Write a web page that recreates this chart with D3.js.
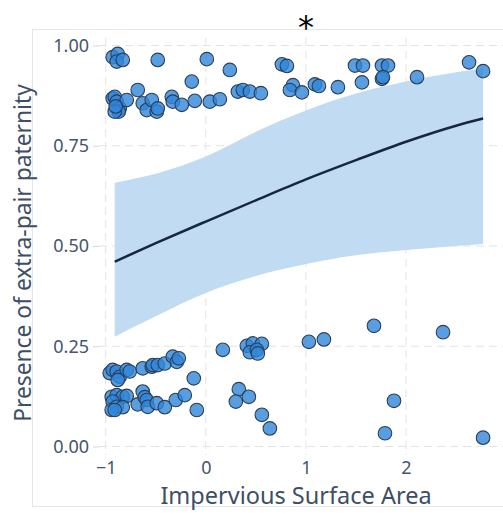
<!DOCTYPE html>
<html>
<head>
<meta charset="utf-8">
<script src="https://cdn.jsdelivr.net/npm/d3@7"></script>
<style>
  html, body { margin: 0; padding: 0; background: #fff; }
  svg { display: block; font-family: "Noto Sans", "Open Sans", sans-serif; }
  .tick text { fill: #44556e; }
</style>
</head>
<body>
<svg id="chart" width="503" height="517"></svg>
<script>
// observed points (x = impervious surface, y = jittered presence)
const ptsX = [
  -0.93, -0.88, -0.89, -0.83, -0.48, 0.01, 0.24, -0.14, -0.68,
  0.76, 0.81, 0.87, 0.84, 0.96, 1.09, 1.13, 1.32, 1.49, 1.57, 1.56, 1.76, 1.82, 1.76, 1.77, 2.11, 2.63, 2.77,
  -0.93, -0.91, -0.89, -0.86, -0.87, -0.91, -0.79, -0.90,
  -0.63, -0.59, -0.54, -0.49, -0.48,
  -0.34, -0.33, -0.24, -0.11, 0.04, 0.14,
  0.32, 0.37, 0.44, 0.55,
  -0.96, -0.93, -0.89, -0.86, -0.88, -0.79, -0.76,
  -0.63, -0.54, -0.53, -0.48, -0.41, -0.33, -0.29, -0.27,
  -0.12, 0.17,
  0.41, 0.47, 0.56, 0.44, 0.51, 0.52,
  1.03, 1.18, 1.68, 2.37,
  -0.94, -0.89, -0.83, -0.79, -0.93, -0.89, -0.83, -0.94, -0.91,
  -0.68, -0.63, -0.61, -0.59, -0.58, -0.49, -0.41,
  -0.30, -0.21, -0.09,
  0.33, 0.43, 0.30, 0.56, 0.64,
  1.88, 1.79, 2.77
]
const ptsY = [
  0.971, 0.979, 0.960, 0.964, 0.964, 0.966, 0.939, 0.910, 0.889,
  0.953, 0.949, 0.901, 0.889, 0.883, 0.903, 0.899, 0.896, 0.950, 0.950, 0.908, 0.950, 0.950, 0.917, 0.921, 0.921, 0.958, 0.936,
  0.868, 0.872, 0.860, 0.843, 0.835, 0.835, 0.864, 0.848,
  0.856, 0.839, 0.864, 0.835, 0.843,
  0.872, 0.860, 0.852, 0.862, 0.860, 0.866,
  0.885, 0.889, 0.885, 0.881,
  0.183, 0.191, 0.187, 0.174, 0.166, 0.191, 0.187,
  0.195, 0.199, 0.203, 0.203, 0.207, 0.224, 0.211, 0.220,
  0.170, 0.241,
  0.251, 0.257, 0.256, 0.235, 0.241, 0.232,
  0.261, 0.267, 0.301, 0.285,
  0.124, 0.128, 0.124, 0.126, 0.112, 0.099, 0.098, 0.091, 0.091,
  0.105, 0.137, 0.123, 0.116, 0.099, 0.108, 0.098,
  0.116, 0.128, 0.091,
  0.143, 0.124, 0.112, 0.079, 0.045,
  0.114, 0.033, 0.022
]

// fitted curve with confidence band
const fitX  = [-0.91, -0.5, 0, 0.5, 1, 1.5, 2, 2.5, 2.77]
const fitY  = [0.461, 0.507, 0.561, 0.614, 0.666, 0.714, 0.760, 0.800, 0.818]
const fitLo = [0.274, 0.325, 0.383, 0.425, 0.455, 0.477, 0.490, 0.500, 0.505]
const fitHi = [0.658, 0.680, 0.723, 0.785, 0.838, 0.880, 0.910, 0.933, 0.943]

const xTicks = [-1, 0, 1, 2]
const yTicks = [0, 0.25, 0.5, 0.75, 1]

const svg = d3.select('#chart')
const plotLeft = 99, plotRight = 560, plotTop = 38, plotBottom = 455

const x = d3.scaleLinear().domain([-1, 2]).range([105.7, 406])
const y = d3.scaleLinear().domain([0, 1]).range([446.5, 45.5])

// outer frame
svg.append('rect')
  .attr('x', 32.5).attr('y', 29.5)
  .attr('width', 600).attr('height', 477)
  .attr('fill', 'none')
  .attr('stroke', '#e6e6e6')

// grid
const grid = svg.append('g')
grid.selectAll('.gx').data(xTicks).enter().append('line')
  .attr('class', 'gx')
  .attr('x1', d => x(d)).attr('x2', d => x(d))
  .attr('y1', plotTop).attr('y2', plotBottom)
grid.selectAll('.gy').data(yTicks).enter().append('line')
  .attr('class', 'gy')
  .attr('x1', plotLeft).attr('x2', plotRight)
  .attr('y1', d => y(d)).attr('y2', d => y(d))
grid.selectAll('line')
  .attr('stroke', '#e3e3e3')
  .attr('stroke-width', 1)
  .attr('stroke-dasharray', '8,5')

// axes
const fmt = d3.format('.2f')
const yAxis = svg.append('g')
  .attr('transform', `translate(${plotLeft},0)`)
  .call(d3.axisLeft(y).tickValues(yTicks).tickFormat(fmt).tickSize(6).tickPadding(4))
const xAxis = svg.append('g')
  .attr('transform', `translate(0,${plotBottom})`)
  .call(d3.axisBottom(x).tickValues(xTicks).tickFormat(d => d < 0 ? '\u2212' + Math.abs(d) : d).tickSize(0).tickPadding(6))
svg.selectAll('.domain').remove()
yAxis.selectAll('.tick line').attr('stroke', '#d6d6d6')
svg.selectAll('.tick text').attr('font-size', 18).attr('font-family', '"Noto Sans", sans-serif')

// confidence band
const band = fitX.map((d, i) => ({x: d, lo: fitLo[i], hi: fitHi[i], y: fitY[i]}))
svg.append('path')
  .datum(band)
  .attr('fill', '#c1dbf2')
  .attr('d', d3.area()
    .x(d => x(d.x))
    .y0(d => y(d.lo))
    .y1(d => y(d.hi))
    .curve(d3.curveMonotoneX))

svg.append('path')
  .datum(band)
  .attr('fill', 'none')
  .attr('stroke', '#16283f')
  .attr('stroke-width', 2.5)
  .attr('d', d3.line()
    .x(d => x(d.x))
    .y(d => y(d.y))
    .curve(d3.curveMonotoneX))

// points
svg.append('g').selectAll('circle')
  .data(ptsX.map((d, i) => [d, ptsY[i]]))
  .enter().append('circle')
  .attr('cx', d => x(d[0]))
  .attr('cy', d => y(d[1]))
  .attr('r', 6.8)
  .attr('fill', '#2f86d9')
  .attr('fill-opacity', 0.8)
  .attr('stroke', '#2c3e55')
  .attr('stroke-width', 1.1)

// titles
svg.append('text')
  .attr('x', 296).attr('y', 504)
  .attr('text-anchor', 'middle')
  .attr('font-size', 23.5)
  .attr('fill', '#3d4e66')
  .text('Impervious Surface Area')

svg.append('text')
  .attr('transform', 'translate(31,253) rotate(-90)')
  .attr('text-anchor', 'middle')
  .attr('font-size', 22.8)
  .attr('fill', '#3d4e66')
  .text('Presence of extra-pair paternity')

svg.append('text')
  .attr('x', 306).attr('y', 38)
  .attr('text-anchor', 'middle')
  .attr('font-size', 32)
  .attr('fill', '#000')
  .attr('font-family', '"DejaVu Sans", sans-serif')
  .text('*')
</script>
</body>
</html>
